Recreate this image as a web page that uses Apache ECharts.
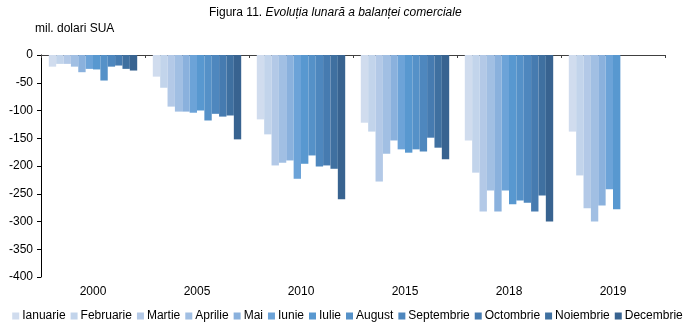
<!DOCTYPE html>
<html><head><meta charset="utf-8">
<script src="https://cdn.jsdelivr.net/npm/echarts@6/dist/echarts.min.js"></script>
<style>html,body{margin:0;padding:0;background:#fff}#c{width:695px;height:329px}</style>
</head><body><div id="c"></div>
<script>
const years = ['2000','2005','2010','2015','2018','2019'];
const months = ['Ianuarie','Februarie','Martie','Aprilie','Mai','Iunie','Iulie','August','Septembrie','Octombrie','Noiembrie','Decembrie'];
const colors = ['#d0dcee','#c2d4eb','#b3c9e7','#a1bfe3','#8ab1dd','#6ca3d8','#5898d0','#5591c8','#4e87be','#467bb0','#3f70a0','#386390'];
// values per month, across years
const ianuarie   = [-21, -39, -116, -122, -154, -138];
const februarie  = [-16, -59, -143, -138, -212, -217];
const martie     = [-16, -93, -199, -228, -282, -276];
const aprilie    = [-21, -102, -194, -178, -244, -300];
const mai        = [-31, -102, -190, -154, -282, -271];
const iunie      = [-25, -104, -223, -170, -244, -242];
const iulie      = [-26, -100, -196, -176, -269, -278];
const august     = [-46, -118, -181, -170, -262, null];
const septembrie = [-21, -106, -201, -174, -266, null];
const octombrie  = [-19, -111, -199, -149, -282, null];
const noiembrie  = [-25, -109, -205, -167, -253, null];
const decembrie  = [-28, -152, -260, -188, -300, null];
const seriesData = [ianuarie, februarie, martie, aprilie, mai, iunie, iulie, august, septembrie, octombrie, noiembrie, decembrie];
const yTicks = {min: -400, max: 0, interval: 50};

const chart = echarts.init(document.getElementById('c'));
const font = 'Liberation Sans, Arial, sans-serif';
chart.setOption({
  animation: false,
  textStyle: {fontFamily: font},
  title: {
    text: '{n|Figura 11. }{i|Evoluția lunară a balanței comerciale}',
    left: 204, top: 2,
    textStyle: {fontWeight: 'normal', rich: {
      n: {fontSize: 12, color: '#000', fontFamily: font, fontWeight: 'normal'},
      i: {fontSize: 12, color: '#000', fontStyle: 'italic', fontFamily: font, fontWeight: 'normal'}
    }}
  },
  graphic: [{type: 'text', left: 35, top: 23, style: {text: 'mil. dolari SUA', fontSize: 12, fill: '#000', fontFamily: font}}],
  legend: {
    bottom: 2, left: 'center', itemWidth: 7, itemHeight: 7, itemGap: 5,
    icon: 'rect', textStyle: {fontSize: 12, color: '#000', padding: [0,0,0,-2]},
    data: months
  },
  grid: {left: 41, right: 30, top: 55, bottom: 52},
  xAxis: [
    {type: 'category', data: years, position: 'top',
     axisLine: {show: true, onZero: false, lineStyle: {color: '#404040', width: 1}},
     axisTick: {show: true, inside: true, length: 3, lineStyle: {color: '#404040'}},
     axisLabel: {show: false}},
    {type: 'category', data: years, position: 'bottom',
     axisLine: {show: false}, axisTick: {show: false},
     axisLabel: {fontSize: 12, color: '#000', margin: 9}}
  ],
  yAxis: {
    type: 'value', min: yTicks.min, max: yTicks.max, interval: yTicks.interval,
    axisLine: {show: true, lineStyle: {color: '#000'}},
    axisTick: {show: true, length: 4, lineStyle: {color: '#000'}},
    splitLine: {show: false},
    axisLabel: {fontSize: 12, color: '#000', margin: 8}
  },
  series: months.map((m, i) => ({
    name: m, type: 'bar', xAxisIndex: 0, data: seriesData[i],
    barGap: '0%', barCategoryGap: '15%',
    itemStyle: {color: colors[i]}
  }))
});
</script></body></html>
